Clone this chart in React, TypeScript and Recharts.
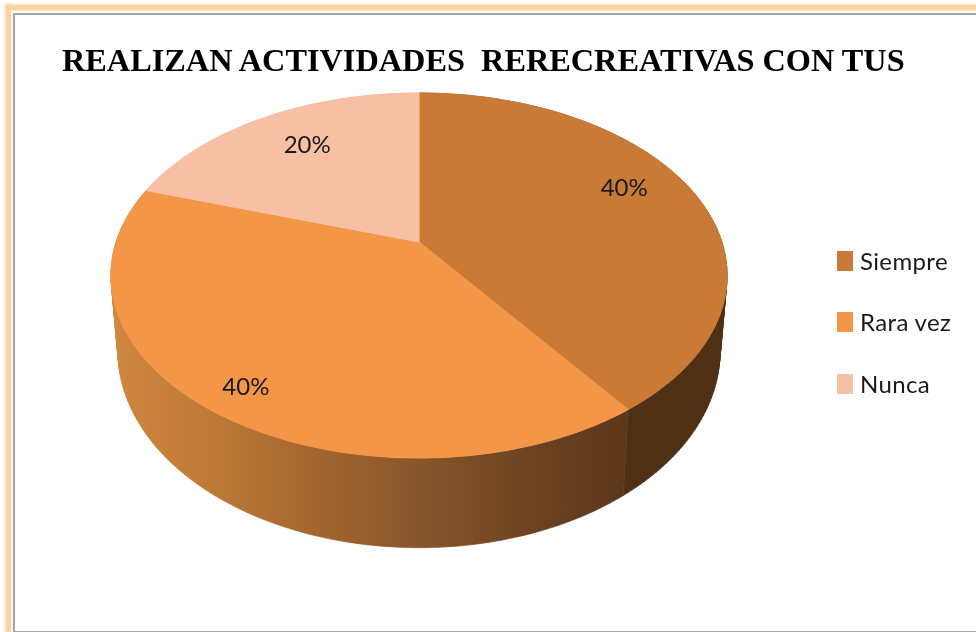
import React from 'react';
import { PieChart, Pie, Cell, Legend } from 'recharts';

const categories = ['Siempre', 'Rara vez', 'Nunca'];
const seriesValues = [40, 40, 20];
const topColors = ['#C87A36', '#F49647', '#F7C0A5'];
const wallColors = ['#4F3014', 'url(#rimGradient)', '#F7C0A5'];
const titleText = 'REALIZAN ACTIVIDADES  RERECREATIVAS CON TUS';

const rows = categories.map((name, i) => ({ name, value: seriesValues[i] }));

// Perspective projection of the pie disc onto the page
const TILT = 0.1836;
const TOP = { wide: 1, tall: 0.5822, drop: 0 };
const FLOOR = { wide: 0.9775, tall: 0.6275, drop: 73 };
const labelPlacement = [
  { r: 0.72, dx: 6, dy: -18 },
  { r: 0.85, dx: 0, dy: 5 },
  { r: 0.72, dx: 4, dy: -6 },
];

const project = (cx: number, cy: number, radius: number, plane: typeof TOP, angle: number, r = 1) => {
  const t = ((90 - angle) * Math.PI) / 180;
  const u = Math.sin(t) * r;
  const v = Math.cos(t) * r;
  const d = 1 + TILT * v;
  return {
    x: cx + (radius * plane.wide * u) / d,
    y: cy + plane.drop - (radius * plane.tall * v) / d,
  };
};

const angleSteps = (a: number, b: number) => {
  const n = Math.max(2, Math.ceil(Math.abs(b - a)));
  return Array.from({ length: n + 1 }, (_, i) => a + ((b - a) * i) / n);
};

const TopFace = (p: any) => {
  const pts = angleSteps(p.startAngle, p.endAngle).map((a) => project(p.cx, p.cy, p.outerRadius, TOP, a));
  const d = `M${p.cx},${p.cy} ` + pts.map((q) => `L${q.x.toFixed(2)},${q.y.toFixed(2)}`).join(' ') + ' Z';
  return <path d={d} fill={p.fill} stroke={p.fill} strokeWidth={1.2} strokeLinejoin="round" />;
};

const Wall = (p: any) => {
  const angles = angleSteps(p.startAngle, p.endAngle);
  const parts: string[] = [];
  for (let i = 0; i < angles.length - 1; i++) {
    const q = [
      project(p.cx, p.cy, p.outerRadius, TOP, angles[i]),
      project(p.cx, p.cy, p.outerRadius, TOP, angles[i + 1]),
      project(p.cx, p.cy, p.outerRadius, FLOOR, angles[i + 1]),
      project(p.cx, p.cy, p.outerRadius, FLOOR, angles[i]),
    ];
    let area = 0;
    q.forEach((a, j) => {
      const b = q[(j + 1) % 4];
      area += a.x * b.y - b.x * a.y;
    });
    const ordered = area < 0 ? [...q].reverse() : q;
    parts.push('M' + ordered.map((a) => `${a.x.toFixed(2)},${a.y.toFixed(2)}`).join(' L') + ' Z');
  }
  return (
    <g>
      <defs>
        <linearGradient id="rimGradient" gradientUnits="userSpaceOnUse" x1={113} y1={0} x2={625} y2={0}>
          <stop offset="0%" stopColor="#D0873F" />
          <stop offset="20%" stopColor="#BD7937" />
          <stop offset="40%" stopColor="#A3652F" />
          <stop offset="60%" stopColor="#87552A" />
          <stop offset="80%" stopColor="#6E4422" />
          <stop offset="100%" stopColor="#5C371A" />
        </linearGradient>
      </defs>
      <path d={parts.join(' ')} fill={p.fill} fillRule="nonzero" stroke={p.fill} strokeWidth={0.6} />
    </g>
  );
};

const PercentLabel = (p: any) => {
  const place = labelPlacement[p.index];
  const q = project(p.cx, p.cy, p.outerRadius, TOP, p.midAngle, place.r);
  return (
    <text
      x={q.x + place.dx}
      y={q.y + place.dy}
      textAnchor="middle"
      dominantBaseline="central"
      fontFamily="Lato, sans-serif"
      fontSize={24}
      fill="#1a1a1a"
    >
      {`${Math.round(p.percent * 100)}%`}
    </text>
  );
};

const LegendBlock = ({ payload }: any) => (
  <div style={{ position: 'relative', width: 130, height: 160 }}>
    {(payload || [])
      .filter((e: any) => e.type !== 'none')
      .map((e: any, i: number) => (
        <div key={e.value} style={{ position: 'absolute', left: 0, top: i * 61.3, height: 20, whiteSpace: 'nowrap' }}>
          <span style={{ position: 'absolute', left: 0, top: 0, width: 16, height: 20, background: e.color }} />
          <span
            style={{
              position: 'absolute',
              left: 23,
              top: -5,
              fontFamily: 'Lato, sans-serif',
              fontSize: 24,
              letterSpacing: 0.35,
              lineHeight: '30px',
              color: '#1a1a1a',
            }}
          >
            {e.value}
          </span>
        </div>
      ))}
  </div>
);

export default function App() {
  return (
    <div
      style={{
        position: 'absolute',
        left: 0,
        top: 0,
        width: 976,
        height: 632,
        overflow: 'hidden',
        background: '#fff',
        filter: 'blur(0.5px)',
      }}
    >
      <div style={{ position: 'absolute', left: 6, top: 5, width: 1000, height: 5, background: '#FDD3A0', boxShadow: '0 0 3px 1px #FEDDB5' }} />
      <div style={{ position: 'absolute', left: 6, top: 5, width: 5, height: 700, background: '#FDD3A0', boxShadow: '0 0 3px 1px #FEDDB5' }} />
      <div style={{ position: 'absolute', left: 11, top: 11, width: 1000, height: 700, background: '#fff' }} />
      <div style={{ position: 'absolute', left: 13, top: 13, width: 1000, height: 616, border: '2.5px solid #A4A4A4', boxSizing: 'content-box' }} />
      <div
        style={{
          position: 'absolute',
          left: 62,
          top: 42,
          fontFamily: '"Liberation Serif", serif',
          fontWeight: 700,
          fontSize: 32.3,
          lineHeight: '36px',
          whiteSpace: 'pre',
          color: '#000',
        }}
      >
        {titleText}
      </div>
      <div style={{ position: 'absolute', left: 0, top: 0 }}>
        <PieChart width={976} height={632} margin={{ top: 0, right: 0, bottom: 0, left: 0 }}>
          <Pie
            data={rows}
            dataKey="value"
            nameKey="name"
            cx={419}
            cy={242}
            outerRadius={302.8}
            startAngle={90}
            endAngle={-270}
            paddingAngle={0}
            stroke="none"
            legendType="none"
            isAnimationActive={false}
            shape={Wall}
          >
            {rows.map((r, i) => (
              <Cell key={r.name} fill={wallColors[i]} />
            ))}
          </Pie>
          <Pie
            data={rows}
            dataKey="value"
            nameKey="name"
            cx={419}
            cy={242}
            outerRadius={302.8}
            startAngle={90}
            endAngle={-270}
            paddingAngle={0}
            stroke="none"
            labelLine={false}
            label={PercentLabel}
            isAnimationActive={false}
            shape={TopFace}
          >
            {rows.map((r, i) => (
              <Cell key={r.name} fill={topColors[i]} />
            ))}
          </Pie>
          <Legend
            layout="vertical"
            itemSorter={null}
            content={LegendBlock}
            wrapperStyle={{ left: 837, top: 251, width: 130, bottom: 'auto', right: 'auto' }}
          />
        </PieChart>
      </div>
    </div>
  );
}
